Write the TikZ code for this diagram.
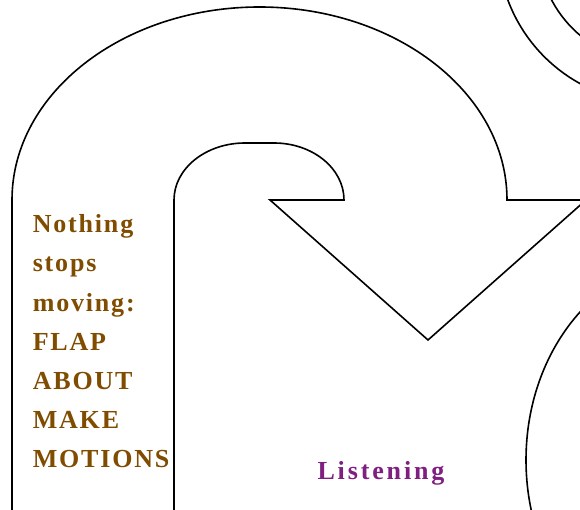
\documentclass[tikz,border=0pt]{standalone}
\usepackage{fontspec}
\newfontfamily\curl[LetterSpace=7]{Liberation Serif}
\newfontfamily\curlw[LetterSpace=11]{Liberation Serif}
\definecolor{brn}{HTML}{7F4C00}
\definecolor{prp}{HTML}{7F1F7F}
\begin{document}
\begin{tikzpicture}[x=1pt,y=-1pt,line width=1.6pt,
  brtext/.style={anchor=base west,inner sep=0pt,text=brn,font=\curl\bfseries\fontsize{26}{39}\selectfont},
  prtext/.style={anchor=base,inner sep=0pt,text=prp,font=\curlw\bfseries\fontsize{26}{39}\selectfont}]
\useasboundingbox (0,0) rectangle (580,510);
\fill[white] (0,0) rectangle (580,510);
\begin{scope}
\clip (0,0) rectangle (580,510);
\draw[line join=miter] (12,520) -- (12,200)
  arc[start angle=180,end angle=360,x radius=247.5,y radius=193]
  -- (586,200) -- (428,340) -- (270,200) -- (344,200)
  arc[start angle=0,end angle=-90,x radius=70,y radius=57]
  -- (245,143)
  arc[start angle=270,end angle=180,x radius=71,y radius=57]
  -- (174,520);
\draw (656,-55) circle[radius=158];
\draw (656,-55) circle[radius=118];
\draw (691,460) ellipse[x radius=165,y radius=200];
\end{scope}
\node[brtext] (l1) at (32,233) {Nothing};
\node[brtext] (l2) at (32,272) {stops};
\node[brtext] (l3) at (32,311) {moving:};
\node[brtext] (l4) at (32,350) {FLAP};
\node[brtext] (l5) at (32,389) {ABOUT};
\node[brtext] (l6) at (32,428) {MAKE};
\node[brtext] (l7) at (32,467) {MOTIONS};
\node[prtext] (lis) at (381,479) {Listening};
\end{tikzpicture}
\end{document}
